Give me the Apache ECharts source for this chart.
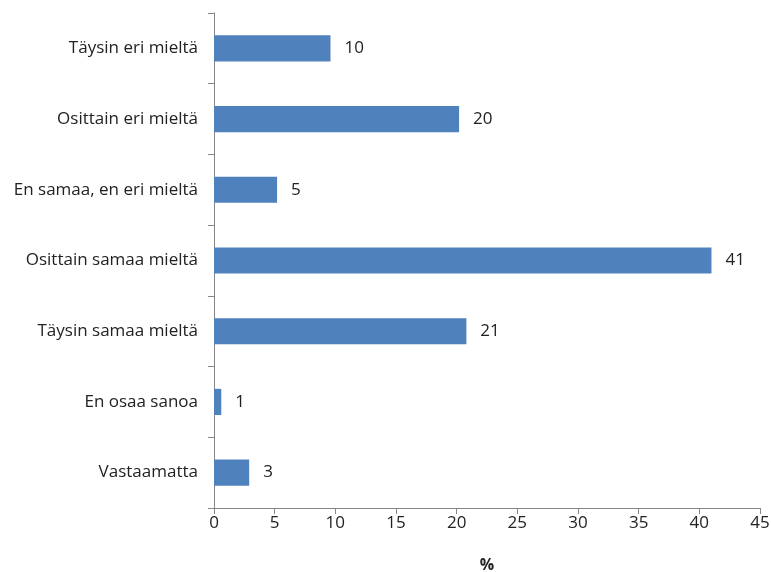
<!DOCTYPE html>
<html><head><meta charset="utf-8">
<script src="https://cdn.jsdelivr.net/npm/echarts@6/dist/echarts.min.js"></script>
<style>html,body{margin:0;padding:0;background:#fff}#c{width:771px;height:572px}</style>
</head><body><div id="c"></div>
<script>
const categories = ["Täysin eri mieltä","Osittain eri mieltä","En samaa, en eri mieltä","Osittain samaa mieltä","Täysin samaa mieltä","En osaa sanoa","Vastaamatta"];
const values = [9.6, 20.2, 5.2, 41.0, 20.8, 0.6, 2.9];
const valueLabels = ["10","20","5","41","21","1","3"];
const xTicks = [0,5,10,15,20,25,30,35,40,45];

const FONT = '"Open Sans", Lato, sans-serif';
const chart = echarts.init(document.getElementById('c'));
chart.setOption({
  animation:false,
  grid:{left:214,right:11,top:13,bottom:64,containLabel:false,outerBoundsMode:'none'},
  xAxis:{
    type:'value',min:0,max:45,interval:5,
    name:'%',nameLocation:'middle',nameGap:49,
    nameTextStyle:{fontFamily:FONT,fontSize:16,fontWeight:'bold',color:'#222'},
    axisLine:{show:true,lineStyle:{color:'#868686'}},
    axisTick:{show:true,length:6,lineStyle:{color:'#868686'}},
    axisLabel:{fontFamily:FONT,fontSize:17,color:'#222',margin:7,formatter:v=>xTicks.includes(v)?String(v):''},
    splitLine:{show:false}
  },
  yAxis:{
    type:'category',data:categories,inverse:true,
    axisLine:{show:true,lineStyle:{color:'#868686'}},
    axisTick:{show:true,length:6,lineStyle:{color:'#868686'}},
    axisLabel:{fontFamily:FONT,fontSize:17,color:'#222',margin:16}
  },
  series:[{
    type:'bar',data:values,barWidth:'37%',
    itemStyle:{color:'#4F81BD'},
    label:{show:true,position:'right',distance:14,fontFamily:FONT,fontSize:17,color:'#222',
      formatter:p=>valueLabels[p.dataIndex]}
  }]
});
</script></body></html>
